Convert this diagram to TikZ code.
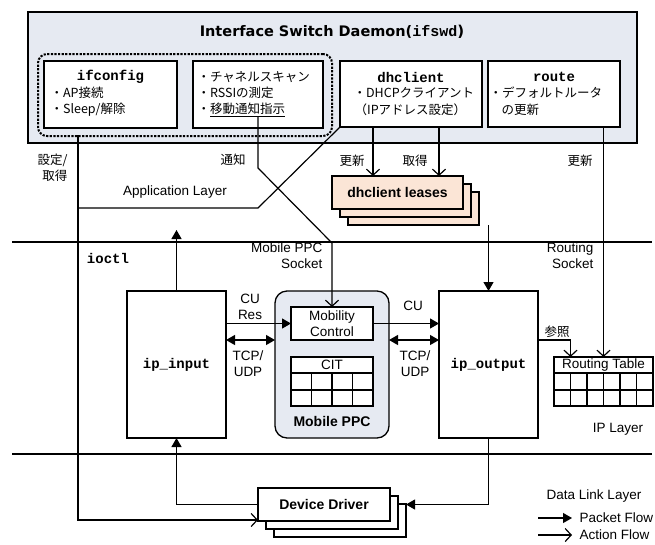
\documentclass[tikz,border=0pt]{standalone}
\usepackage{fontspec}
\setmainfont{Liberation Sans}
\setmonofont{Liberation Mono}
\newfontfamily\jp{Noto Sans CJK JP}
\newfontfamily\ttl{DejaVu Sans}
\usetikzlibrary{arrows.meta}
\definecolor{bgblue}{RGB}{230,234,242}
\definecolor{peach}{RGB}{251,229,214}
\begin{document}
\begin{tikzpicture}[x=1pt,y=-1pt,line width=1.2pt,
  txt/.style={font=\fontsize{13.5}{16}\selectfont,inner sep=1pt,align=center},
  jtxt/.style={font=\jp\fontsize{12.5}{16}\selectfont,inner sep=1pt},
  btxt/.style={font=\bfseries\fontsize{14}{16}\selectfont,inner sep=1pt},
  mtxt/.style={font=\ttfamily\bfseries\fontsize{14}{16}\selectfont,inner sep=1pt},
  box/.style={draw,line width=1.3pt,fill=white,anchor=north west,inner sep=0pt,outer sep=0pt},
  pk/.style={-{Triangle[length=9pt,width=10pt]}},
  pkk/.style={{Triangle[length=9pt,width=10pt]}-{Triangle[length=9pt,width=10pt]}},
  act/.style={-{Straight Barb[length=6pt,width=13pt]}}]
\useasboundingbox (0,0) rectangle (655,544);

% ---------- daemon ----------
\node[box,fill=bgblue,minimum width=609pt,minimum height=131pt] (dmn) at (28,12) {};
\node[inner sep=0pt] (title) at (332,32) {\ttl\bfseries\fontsize{14.5}{16}\selectfont Interface Switch Daemon(\ttfamily\fontsize{15}{16}\selectfont ifswd\ttl)};
\node[draw,line width=2pt,dash pattern=on 2.2pt off 1.4pt,rounded corners=9pt,anchor=north west,inner sep=0pt,minimum width=294pt,minimum height=82pt] (dash) at (37,53) {};
\node[box,minimum width=133pt,minimum height=67pt] (ifc) at (44,61) {};
\node[box,minimum width=130pt,minimum height=67pt] (chan) at (193,61) {};
\node[box,minimum width=142pt,minimum height=66pt] (dhc) at (340,61) {};
\node[box,minimum width=132pt,minimum height=66pt] (rte) at (488,61) {};

\node[mtxt] (ifct) at (110.5,77) {ifconfig};
\node[jtxt,anchor=west] (ifc1) at (49,93) {・AP接続};
\node[jtxt,anchor=west] (ifc2) at (49,110) {・Sleep/解除};

\node[jtxt,anchor=west] (ch1) at (196,77) {・チャネルスキャン};
\node[jtxt,anchor=west] (ch2) at (196,93) {・RSSIの測定};
\node[jtxt,anchor=west] (ch3) at (196,110) {・\underline{移動通知指示}};

\node[mtxt] (dhct) at (411,77) {dhclient};
\node[jtxt,anchor=west] (dh1) at (352,93) {・DHCPクライアント};
\node[jtxt,anchor=west] (dh2) at (353,110) {（IPアドレス設定）};

\node[mtxt] (rtet) at (554,77) {route};
\node[jtxt,anchor=west] (rt1) at (488,93) {・デフォルトルータ};
\node[jtxt,anchor=west] (rt2) at (500,110) {の更新};

% ---------- leases ----------
\node[box,fill=peach,minimum width=131pt,minimum height=33pt] (lf3) at (348,192) {};
\node[box,fill=peach,minimum width=131pt,minimum height=33pt] (lf2) at (340,184) {};
\node[box,fill=peach,minimum width=131pt,minimum height=33pt] (lf1) at (332,176) {};
\node[btxt] at (lf1.center) {dhclient leases};

% ---------- layer lines ----------
\coordinate (l1a) at (12,242); \coordinate (l1b) at (652,242);
\coordinate (l2a) at (12,454); \coordinate (l2b) at (652,454);
\draw (l1a) -- (l1b);
\draw (l2a) -- (l2b);

% ---------- IP layer boxes ----------
\node[box,minimum width=99pt,minimum height=147pt] (ipin) at (127,291) {};
\node[mtxt] at (ipin.center) {ip\_input};
\node[box,minimum width=99pt,minimum height=147pt] (ipout) at (439,291) {};
\node[mtxt] at (ipout.center) {ip\_output};
\node[box,fill=bgblue,rounded corners=12pt,minimum width=114pt,minimum height=147pt] (mppc) at (275,291) {};
\node[box,minimum width=82pt,minimum height=33pt] (mob) at (291,307) {};
\node[txt] at (mob.center) {Mobility\\Control};
\node[box,minimum width=82pt,minimum height=49pt] (cit) at (291,357) {};
\draw[line width=1.1pt] (291,373) -- (373,373) (291,390) -- (373,390);
\foreach \x in {311.5,332,352.5} \draw[line width=1.1pt] (\x,373) -- (\x,406);
\node[txt] at (332,365) {CIT};
\node[btxt] (mppct) at (332,421) {Mobile PPC};

\node[box,minimum width=99pt,minimum height=49pt] (rt) at (554,357) {};
\draw[line width=1.1pt] (554,373) -- (653,373) (554,390) -- (653,390);
\foreach \x in {570.5,587,603.5,620,636.5} \draw[line width=1.1pt] (\x,373) -- (\x,406);
\node[txt] at (603.5,365) {Routing Table};

% ---------- device driver ----------
\node[box,minimum width=132pt,minimum height=33pt] (dd3) at (274,504) {};
\node[box,minimum width=132pt,minimum height=33pt] (dd2) at (266,496) {};
\node[box,minimum width=132pt,minimum height=33pt] (ddf) at (258,488) {};
\node[btxt] at (ddf.center) {Device Driver};

% ---------- connectors ----------
\coordinate (ifcb) at (78,135);
\coordinate (dd1) at (258,520);
\draw[act] (ifcb) -- (78,520) -- (dd1);
\coordinate (dhj) at (78,208);
\draw (dhc.south west) -- (258,208) -- (dhj);
\coordinate (nt) at (258,117);
\draw[act] (nt) -- (258,168) -- (332,243) -- (mob.north);
\coordinate (dh1s) at (373,127); \coordinate (dh1e) at (373,176);
\coordinate (dh2s) at (439,127); \coordinate (dh2e) at (439,176);
\draw[act] (dh1s) -- (dh1e);
\draw[act] (dh2s) -- (dh2e);
\coordinate (rts) at (603.5,127);
\draw[act] (rts) -- (rt.north -| rts);
\coordinate (lfo) at (488.5,225);
\draw[pk] (lfo) -- (ipout.north);
\coordinate (apl) at (176.5,230);
\draw[pk] (ipin.north) -- (apl);
\draw[pk] (ipin.east |- mob.west) -- (mob.west);
\draw[pkk] (ipin.east |- 0,340) -- (mppc.west |- 0,340);
\draw[pk] (mob.east) -- (ipout.west |- mob.east);
\draw[pkk] (mppc.east |- 0,340) -- (ipout.west |- 0,340);
\coordinate (rtr) at (570.5,340);
\draw[act] (ipout.east |- rtr) -- (rtr) -- (rt.north -| rtr);
\draw[pk] (ddf.west) -| (ipin.south);
\coordinate (ddr) at (406,504.5);
\draw[pk] (ipout.south) |- (ddr);

% ---------- labels ----------
\node[jtxt,anchor=east,align=right] (lbl1) at (69,168) {設定/\\取得};
\node[jtxt] (lbl2) at (233,160) {通知};
\node[txt] (lbl3) at (175,192) {Application Layer};
\node[mtxt] (lbl4) at (108,258) {ioctl};
\node[txt,anchor=east,align=right] (lbl5) at (324,256) {Mobile PPC\\Socket};
\node[jtxt] (lbl6) at (352,161) {更新};
\node[jtxt] (lbl7) at (415,161) {取得};
\node[jtxt] (lbl8) at (580,161) {更新};
\node[txt,anchor=east,align=right] (lbl9) at (595,256) {Routing\\Socket};
\node[txt] (lbl10) at (250,307) {CU\\Res};
\node[txt] (lbl11) at (248,364) {TCP/\\UDP};
\node[txt] (lbl12) at (413,306) {CU};
\node[txt] (lbl13) at (415,364) {TCP/\\UDP};
\node[jtxt] (lbl14) at (557,332) {参照};
\node[txt] (lbl15) at (618,429) {IP Layer};
\node[txt] (lbl16) at (594,496) {Data Link Layer};

% ---------- legend ----------
\coordinate (lg1a) at (538,518); \coordinate (lg1b) at (572,518);
\coordinate (lg2a) at (538,535); \coordinate (lg2b) at (572,535);
\draw[pk] (lg1a) -- (lg1b);
\draw[act] (lg2a) -- (lg2b);
\node[txt,anchor=west] (lg1) at (578,518) {Packet Flow};
\node[txt,anchor=west] (lg2) at (578,535) {Action Flow};
\end{tikzpicture}
\end{document}
